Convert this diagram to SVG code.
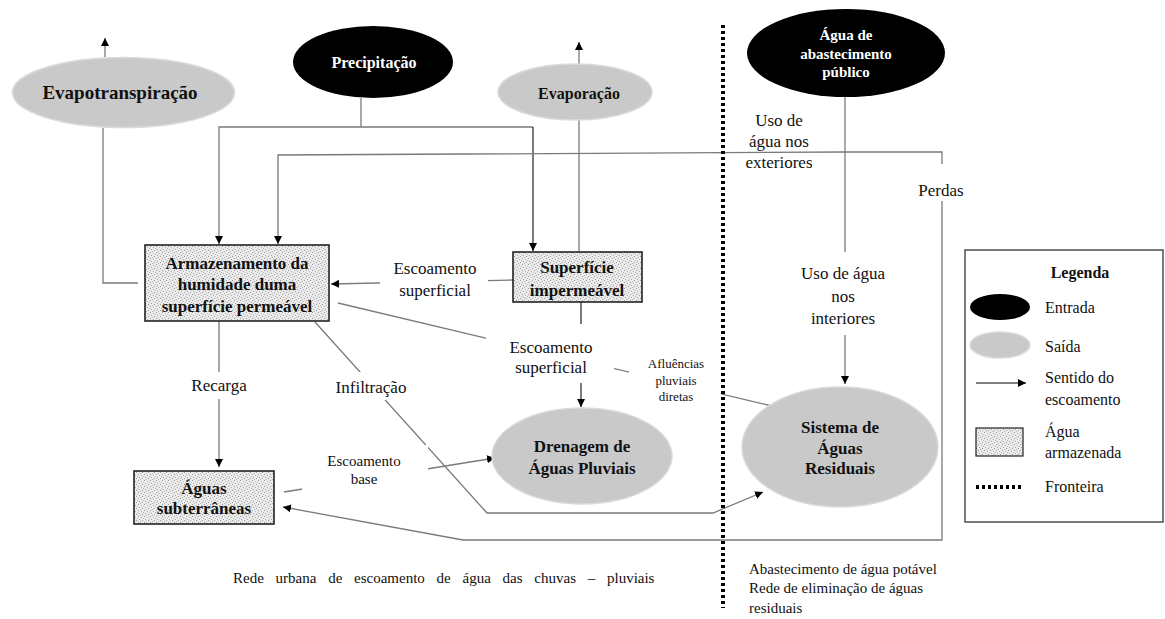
<svg xmlns="http://www.w3.org/2000/svg" width="1165" height="619" viewBox="0 0 1165 619" font-family="Liberation Serif, Times New Roman, serif">
<style>
text{font-family:Liberation Serif, Times New Roman, serif;fill:#111}
.b{font-weight:bold}
.w{fill:#fff}
.n{font-size:17px}
.l{font-size:17px}
.s{font-size:13px}
.g{font-size:16px}
.ln{fill:none;stroke:#7a7a7a;stroke-width:1.3}
.dk{fill:none;stroke:#222;stroke-width:1.2}
.bg{fill:#fff}
.out{fill:#c9c9c9;stroke:#dadada;stroke-width:1.5}
.in{fill:#000}
.box{fill:url(#stip);stroke:#222;stroke-width:1.6}
</style>
<defs>
<marker id="ah" markerUnits="userSpaceOnUse" markerWidth="9" markerHeight="8" refX="8" refY="4" orient="auto">
<path d="M0,0 L8,4 L0,8 z" fill="#000"/>
</marker>
<pattern id="stip" width="6" height="6" patternUnits="userSpaceOnUse">
<rect width="6" height="6" fill="#ebebeb"/>
<rect x="0" y="0" width="1" height="1" fill="#9a9a9a"/>
<rect x="3" y="1" width="1" height="1" fill="#b0b0b0"/>
<rect x="1" y="3" width="1" height="1" fill="#a4a4a4"/>
<rect x="4" y="4" width="1" height="1" fill="#9a9a9a"/>
<rect x="5" y="2" width="1" height="1" fill="#bbbbbb"/>
<rect x="2" y="5" width="1" height="1" fill="#b4b4b4"/>
</pattern>
</defs>
<rect width="1165" height="619" fill="#fff"/>

<g id="connectors">
<path class="ln" d="M105,57 V38" marker-end="url(#ah)"/>
<path class="ln" d="M138,283 H103 V128"/>
<path class="ln" d="M361,98 V127"/>
<path class="ln" d="M533,127 H219 V244" marker-end="url(#ah)"/>
<path class="dk" d="M533,127 V251" marker-end="url(#ah)"/>
<path class="ln" d="M579,64 V42" marker-end="url(#ah)"/>
<path class="ln" d="M579,251 V120"/>
<path class="ln" d="M845,152 L278,155 V244" marker-end="url(#ah)"/>
<path class="ln" d="M845,152 H942 V540 H463 L283,507" marker-end="url(#ah)"/>
<path class="ln" d="M845,97 V384" marker-end="url(#ah)"/>
<path class="ln" d="M513,280 L331,284" marker-end="url(#ah)"/>
<path class="dk" d="M581,302 V407" marker-end="url(#ah)"/>
<path class="ln" d="M338,303 L772,406"/>
<path class="ln" d="M219,321 V467" marker-end="url(#ah)"/>
<path class="ln" d="M315,322 L487,513 H713 L763,492" marker-end="url(#ah)"/>
<path class="ln" d="M284,492 L495,458" marker-end="url(#ah)"/>
<path d="M723,25 V608" fill="none" stroke="#000" stroke-width="4" stroke-dasharray="3,3"/>
</g>

<g id="labels">
<rect class="bg" x="380" y="255" width="108" height="46"/>
<text class="l" text-anchor="middle" x="435" y="274">Escoamento</text>
<text class="l" text-anchor="middle" x="435" y="296">superficial</text>
<rect class="bg" x="486" y="324" width="128" height="59"/>
<text class="l" text-anchor="middle" x="551" y="353">Escoamento</text>
<text class="l" text-anchor="middle" x="551" y="373">superficial</text>
<rect class="bg" x="629" y="350" width="92" height="55"/>
<text class="s" text-anchor="middle" x="676" y="368">Afluências</text>
<text class="s" text-anchor="middle" x="676" y="385">pluviais</text>
<text class="s" text-anchor="middle" x="676" y="401">diretas</text>
<text class="l" text-anchor="middle" x="779" y="126">Uso de</text>
<text class="l" text-anchor="middle" x="779" y="147">água nos</text>
<text class="l" text-anchor="middle" x="779" y="168">exteriores</text>
<rect class="bg" x="915" y="164" width="54" height="37"/>
<text class="l" text-anchor="middle" x="941" y="196">Perdas</text>
<rect class="bg" x="787" y="252" width="113" height="83"/>
<text class="l" text-anchor="middle" x="843" y="279">Uso de água</text>
<text class="l" text-anchor="middle" x="843" y="302">nos</text>
<text class="l" text-anchor="middle" x="843" y="324">interiores</text>
<rect class="bg" x="185" y="372" width="68" height="27"/>
<text class="l" text-anchor="middle" x="219" y="391">Recarga</text>
<rect class="bg" x="320" y="372" width="123" height="28"/>
<text class="l" text-anchor="middle" x="371" y="393">Infiltração</text>
<rect class="bg" x="302" y="445" width="126" height="48"/>
<text style="font-size:15px" text-anchor="middle" x="364" y="466">Escoamento</text>
<text style="font-size:15px" text-anchor="middle" x="364" y="484">base</text>
<text style="font-size:15px;word-spacing:8px" x="233" y="583">Rede urbana de escoamento de água das chuvas – pluviais</text>
<text style="font-size:15px" x="749" y="574">Abastecimento de água potável</text>
<text style="font-size:15px" x="749" y="593">Rede de eliminação de águas</text>
<text style="font-size:15px" x="749" y="613">residuais</text>
</g>

<g id="evapotranspiracao">
<ellipse class="out" cx="123.5" cy="92.5" rx="111" ry="35"/>
<text class="b" style="font-size:19px" text-anchor="middle" x="120" y="99">Evapotranspiração</text>
</g>
<g id="precipitacao">
<ellipse class="in" cx="373" cy="62" rx="80" ry="36"/>
<text class="b w" style="font-size:16px" text-anchor="middle" x="374" y="68">Precipitação</text>
</g>
<g id="evaporacao">
<ellipse class="out" cx="575" cy="92" rx="77" ry="28"/>
<text class="b" style="font-size:16px" text-anchor="middle" x="579" y="99">Evaporação</text>
</g>
<g id="abastecimento">
<ellipse class="in" cx="846" cy="53" rx="99" ry="44"/>
<text class="b w" style="font-size:15px" text-anchor="middle" x="846" y="40">Água de</text>
<text class="b w" style="font-size:15px" text-anchor="middle" x="846" y="59">abastecimento</text>
<text class="b w" style="font-size:15px" text-anchor="middle" x="846" y="77">público</text>
</g>
<g id="armazenamento">
<rect class="box" x="145" y="245" width="184" height="76"/>
<text class="b n" text-anchor="middle" x="237" y="269">Armazenamento da</text>
<text class="b n" text-anchor="middle" x="237" y="290">humidade duma</text>
<text class="b n" text-anchor="middle" x="237" y="312">superfície permeável</text>
</g>
<g id="superficie">
<rect class="box" x="513" y="252" width="129" height="50"/>
<text class="b n" text-anchor="middle" x="577" y="273">Superfície</text>
<text class="b n" text-anchor="middle" x="577" y="296">impermeável</text>
</g>
<g id="subterraneas">
<rect class="box" x="134" y="471" width="140" height="53"/>
<text class="b n" text-anchor="middle" x="204" y="494">Águas</text>
<text class="b n" text-anchor="middle" x="204" y="514">subterrâneas</text>
</g>
<g id="drenagem">
<ellipse class="out" cx="582" cy="456" rx="90" ry="48"/>
<text class="b n" text-anchor="middle" x="582" y="452">Drenagem de</text>
<text class="b n" text-anchor="middle" x="582" y="474">Águas Pluviais</text>
</g>
<g id="sistema">
<ellipse class="out" cx="840" cy="447" rx="98" ry="60"/>
<text class="b n" text-anchor="middle" x="840" y="433">Sistema de</text>
<text class="b n" text-anchor="middle" x="840" y="454">Águas</text>
<text class="b n" text-anchor="middle" x="840" y="474">Residuais</text>
</g>

<g id="legenda">
<rect x="965" y="250" width="198" height="272" fill="#fff" stroke="#333" stroke-width="1.3"/>
<text class="b g" text-anchor="middle" x="1080" y="278">Legenda</text>
<ellipse class="in" cx="1000" cy="307" rx="30" ry="13"/>
<text class="g" x="1045" y="313">Entrada</text>
<ellipse class="out" cx="1000" cy="345" rx="30" ry="13"/>
<text class="g" x="1045" y="352">Saída</text>
<path d="M976,383 H1026" stroke="#000" stroke-width="1" marker-end="url(#ah)"/>
<text class="g" x="1045" y="383">Sentido do</text>
<text class="g" x="1045" y="405">escoamento</text>
<rect class="box" x="976" y="428" width="47" height="28" style="stroke-width:1.2"/>
<text class="g" x="1045" y="437">Água</text>
<text class="g" x="1045" y="458">armazenada</text>
<path d="M976,487 H1023" stroke="#000" stroke-width="4" stroke-dasharray="3,3"/>
<text class="g" x="1045" y="492">Fronteira</text>
</g>
</svg>
